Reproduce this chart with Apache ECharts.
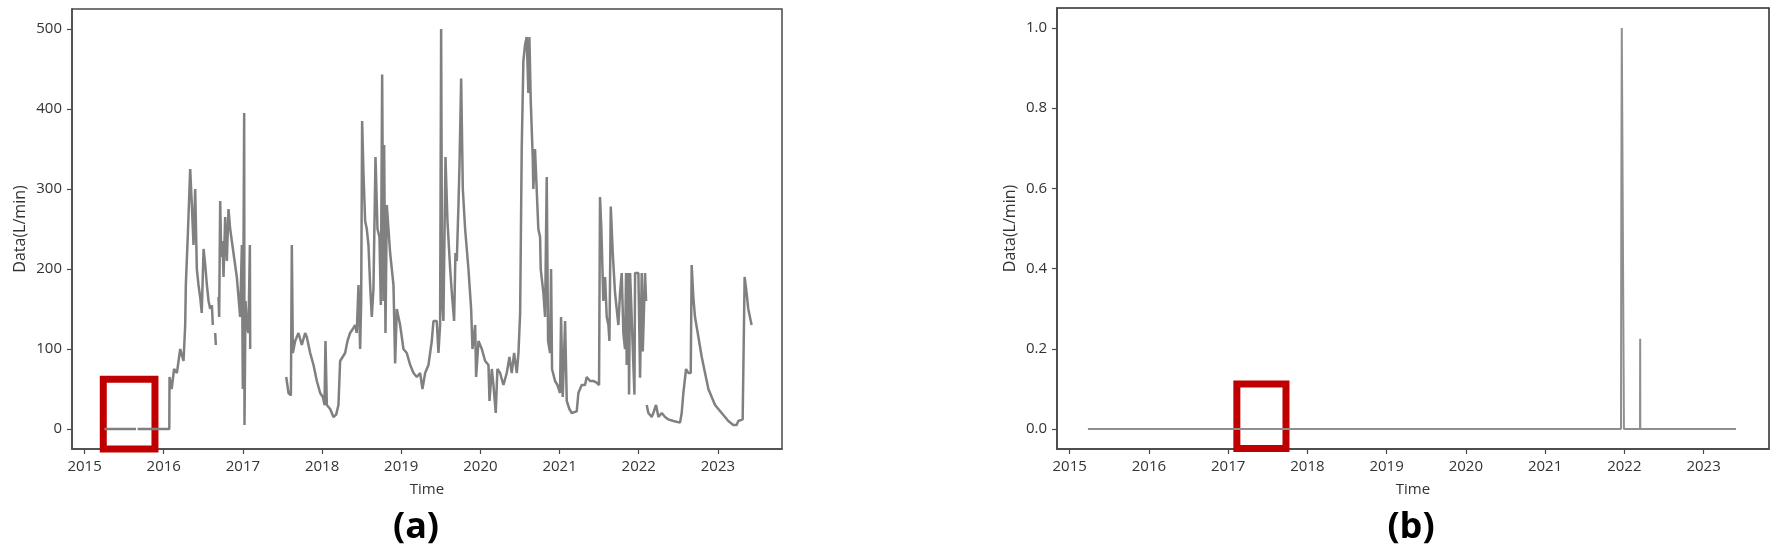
<!DOCTYPE html>
<html>
<head>
<meta charset="utf-8">
<title>Data(L/min)</title>
<script src="https://cdn.jsdelivr.net/npm/echarts@6/dist/echarts.min.js"></script>
<style>
  html, body { margin: 0; padding: 0; background: #fff; }
  #chart { width: 1777px; height: 551px; }
</style>
</head>
<body>
<div id="chart"></div>
<script>
// panel (a): flow record, decimal years, null = break in the record
const timeA = [
  2015.25, 2015.65, 2015.66, 2015.67, 2016.07, 2016.073, 2016.10, 2016.13, 2016.166, 2016.208,
  2016.25, 2016.271, 2016.279, 2016.305, 2016.334, 2016.355, 2016.376, 2016.397, 2016.418, 2016.439,
  2016.46, 2016.48, 2016.503, 2016.524, 2016.545, 2016.566, 2016.587, 2016.60,
  2016.608, 2016.62, 2016.64, 2016.65, 2016.658, 2016.68,
  2016.692, 2016.70, 2016.713, 2016.726, 2016.742, 2016.755, 2016.776, 2016.797, 2016.818, 2016.839,
  2016.881, 2016.923, 2016.944, 2016.965, 2016.987, 2016.999, 2017.016, 2017.02, 2017.033, 2017.05,
  2017.07, 2017.088, 2017.092, 2017.3,
  2017.547, 2017.576, 2017.606, 2017.618, 2017.631, 2017.66, 2017.702, 2017.744, 2017.786, 2017.807,
  2017.85, 2017.892, 2017.934, 2017.976, 2018.01, 2018.031, 2018.043, 2018.06, 2018.102, 2018.144,
  2018.178, 2018.207, 2018.228, 2018.249, 2018.291, 2018.321, 2018.354, 2018.388, 2018.417, 2018.438,
  2018.46, 2018.481, 2018.494, 2018.506, 2018.523, 2018.544, 2018.565, 2018.586, 2018.607, 2018.628,
  2018.649, 2018.675, 2018.70, 2018.725, 2018.742, 2018.759, 2018.776, 2018.784, 2018.801, 2018.818,
  2018.86, 2018.902, 2018.923, 2018.944, 2018.986, 2019.028, 2019.07, 2019.113, 2019.155, 2019.197,
  2019.239, 2019.268, 2019.302, 2019.344, 2019.386, 2019.407, 2019.449, 2019.47, 2019.491, 2019.504,
  2019.517, 2019.533, 2019.559, 2019.584, 2019.618, 2019.643, 2019.668, 2019.685, 2019.702, 2019.723,
  2019.736, 2019.757, 2019.778, 2019.807, 2019.849, 2019.883, 2019.90, 2019.934, 2019.946, 2019.976,
  2020.018, 2020.06, 2020.102, 2020.115, 2020.144, 2020.165, 2020.194, 2020.215, 2020.249, 2020.291,
  2020.333, 2020.367, 2020.396, 2020.426, 2020.46, 2020.481, 2020.502, 2020.522, 2020.543, 2020.564,
  2020.585, 2020.606, 2020.619, 2020.636, 2020.661, 2020.669, 2020.69, 2020.711, 2020.732, 2020.754,
  2020.762, 2020.796, 2020.817, 2020.838, 2020.855, 2020.88, 2020.893, 2020.905, 2020.943, 2020.973,
  2021.006, 2021.019, 2021.04, 2021.07, 2021.091, 2021.124, 2021.154, 2021.217, 2021.238, 2021.28,
  2021.322, 2021.343, 2021.385, 2021.427, 2021.469, 2021.499, 2021.511, 2021.528, 2021.553, 2021.575,
  2021.596, 2021.617, 2021.63, 2021.647, 2021.672, 2021.701, 2021.722, 2021.743, 2021.764, 2021.785,
  2021.806, 2021.827, 2021.84, 2021.848, 2021.869, 2021.878, 2021.891, 2021.912, 2021.946, 2021.954,
  2021.996, 2022.017, 2022.038, 2022.051, 2022.08, 2022.093, 2022.097,
  2022.101, 2022.122, 2022.164, 2022.185, 2022.219, 2022.249, 2022.291, 2022.333, 2022.375, 2022.438,
  2022.522, 2022.543, 2022.564, 2022.598, 2022.627, 2022.657, 2022.669, 2022.69, 2022.711, 2022.754,
  2022.796, 2022.838, 2022.88, 2022.922, 2022.964, 2023.006, 2023.048, 2023.09, 2023.132, 2023.195,
  2023.237, 2023.258, 2023.313, 2023.325, 2023.338, 2023.363, 2023.384, 2023.405, 2023.426
];
const valueA = [
  0, 0, null, 0, 0, 65, 50, 75, 70, 100,
  85, 130, 180, 245, 325, 280, 230, 300, 200, 180,
  165, 145, 225, 205, 180, 160, 150, null,
  155, 130, null, 120, 105, null,
  165, 140, 285, 215, 235, 190, 265, 210, 275, 250,
  220, 190, 165, 140, 230, 50, 395, 5, 160, 130,
  120, 230, 100, null,
  65, 45, 42, 230, 95, 110, 120, 105, 120, 115,
  95, 80, 60, 45, 40, 30, 110, 30, 25, 15,
  18, 30, 85, 85, 95, 110, 120, 125, 130, 120,
  180, 100, 160, 385, 320, 260, 250, 230, 180, 140,
  175, 340, 250, 240, 155, 443, 160, 355, 120, 280,
  220, 180, 82, 150, 130, 100, 95, 80, 70, 65,
  70, 50, 70, 80, 110, 135, 135, 95, 130, 500,
  160, 135, 340, 260, 200, 165, 135, 220, 210, 280,
  330, 438, 300, 250, 200, 150, 100, 130, 65, 110,
  100, 85, 80, 35, 75, 55, 20, 75, 70, 55,
  70, 90, 70, 95, 70, 95, 145, 350, 460, 480,
  490, 420, 490, 410, 340, 300, 350, 300, 250, 240,
  200, 170, 140, 315, 110, 95, 200, 75, 60, 55,
  45, 140, 40, 135, 35, 25, 20, 22, 45, 55,
  55, 65, 60, 60, 58, 55, 290, 250, 160, 190,
  140, 130, 110, 278, 220, 170, 150, 130, 170, 195,
  120, 100, 195, 80, 195, 43, 195, 195, 43, 195,
  195, 64, 195, 97, 195, 160, null,
  30, 20, 15, 20, 30, 15, 20, 15, 12, 10,
  8, 20, 45, 75, 70, 70, 205, 165, 140, 115,
  90, 70, 50, 40, 30, 25, 20, 15, 10, 5,
  5, 10, 12, 13, 190, 170, 150, 140, 130
];

// panel (b): flat at zero with two short spikes
const timeB = [2015.23, 2021.958, 2021.962, 2021.968, 2021.99, 2021.995, 2022.198, 2022.2, 2022.202, 2023.41];
const valueB = [0, 0, 0.56, 1.0, 1.0, 0, 0, 0.225, 0, 0];

const yearTicks = [2015, 2016, 2017, 2018, 2019, 2020, 2021, 2022, 2023];
const ticksA = [0, 100, 200, 300, 400, 500];
const ticksB = [0, 0.2, 0.4, 0.6, 0.8, 1.0];

// red highlight boxes, [[x0, y0], [x1, y1]] in data units
const boxA = [[2015.236, 62.3], [2015.889, -26.5]];
const boxB = [[2017.11, 0.112], [2017.73, -0.049]];

const pairs = (t, v) => t.map((x, i) => [x, v[i] === null ? '-' : v[i]]);

const font = '"Open Sans", "Noto Sans", sans-serif';
const labelStyle = { color: '#333', fontSize: 15, fontFamily: font };

function xAxisFor(idx, min, max) {
  return {
    type: 'value',
    gridIndex: idx,
    min: min,
    max: max,
    name: 'Time',
    nameLocation: 'middle',
    nameGap: 33,
    nameTextStyle: { color: '#333', fontSize: 15, fontFamily: font },
    splitLine: { show: false },
    axisLine: { show: true, onZero: false, lineStyle: { color: '#4a4a4a', width: 1.5 } },
    axisTick: { show: true, length: 5, customValues: yearTicks, lineStyle: { color: '#4a4a4a', width: 1.2 } },
    axisLabel: Object.assign({ margin: 10, customValues: yearTicks, formatter: (v) => String(v) }, labelStyle),
  };
}

function yAxisFor(idx, min, max, ticks, digits, gap) {
  return {
    type: 'value',
    gridIndex: idx,
    min: min,
    max: max,
    name: 'Data(L/min)',
    nameLocation: 'middle',
    nameGap: gap,
    nameTextStyle: { color: '#333', fontSize: 16, fontFamily: font },
    splitLine: { show: false },
    axisLine: { show: true, onZero: false, lineStyle: { color: '#4a4a4a', width: 1.5 } },
    axisTick: { show: true, length: 5, customValues: ticks, lineStyle: { color: '#4a4a4a', width: 1.2 } },
    axisLabel: Object.assign({ margin: 10, customValues: ticks, formatter: (v) => v.toFixed(digits) }, labelStyle),
  };
}

function redBox(box, fill) {
  return {
    silent: true,
    itemStyle: { color: fill, borderColor: '#c00000', borderWidth: 7 },
    data: [[{ coord: box[0] }, { coord: box[1] }]],
  };
}

const myChart = echarts.init(document.getElementById('chart'));
const option = {
  backgroundColor: '#fff',
  animation: false,
  grid: [
    { left: 72, top: 9, width: 710, height: 440, show: true, borderColor: '#4a4a4a', borderWidth: 1.5, backgroundColor: 'transparent' },
    { left: 1057, top: 8, width: 712, height: 441, show: true, borderColor: '#2a2a2a', borderWidth: 1.5, backgroundColor: 'transparent' },
  ],
  xAxis: [
    xAxisFor(0, 2014.841, 2023.81),
    xAxisFor(1, 2014.84, 2023.826),
  ],
  yAxis: [
    yAxisFor(0, -25, 525, ticksA, 0, 44),
    yAxisFor(1, -0.05, 1.05, ticksB, 1, 39),
  ],
  series: [
    {
      type: 'line',
      xAxisIndex: 0,
      yAxisIndex: 0,
      showSymbol: false,
      connectNulls: false,
      clip: false,
      lineStyle: { color: '#808080', width: 2.5 },
      data: pairs(timeA, valueA),
      markArea: redBox(boxA, 'rgba(0,0,0,0)'),
    },
    {
      type: 'line',
      xAxisIndex: 1,
      yAxisIndex: 1,
      showSymbol: false,
      clip: false,
      lineStyle: { color: '#8f8f8f', width: 2 },
      data: pairs(timeB, valueB),
      markArea: redBox(boxB, '#ffffff'),
    },
  ],
  graphic: [
    { type: 'text', x: 416, y: 528, style: { text: '(a)', font: 'bold 36px ' + font, fill: '#000', textAlign: 'center', textVerticalAlign: 'middle' } },
    { type: 'text', x: 1411, y: 528, style: { text: '(b)', font: 'bold 36px ' + font, fill: '#000', textAlign: 'center', textVerticalAlign: 'middle' } },
  ],
};
myChart.setOption(option);
</script>
</body>
</html>
